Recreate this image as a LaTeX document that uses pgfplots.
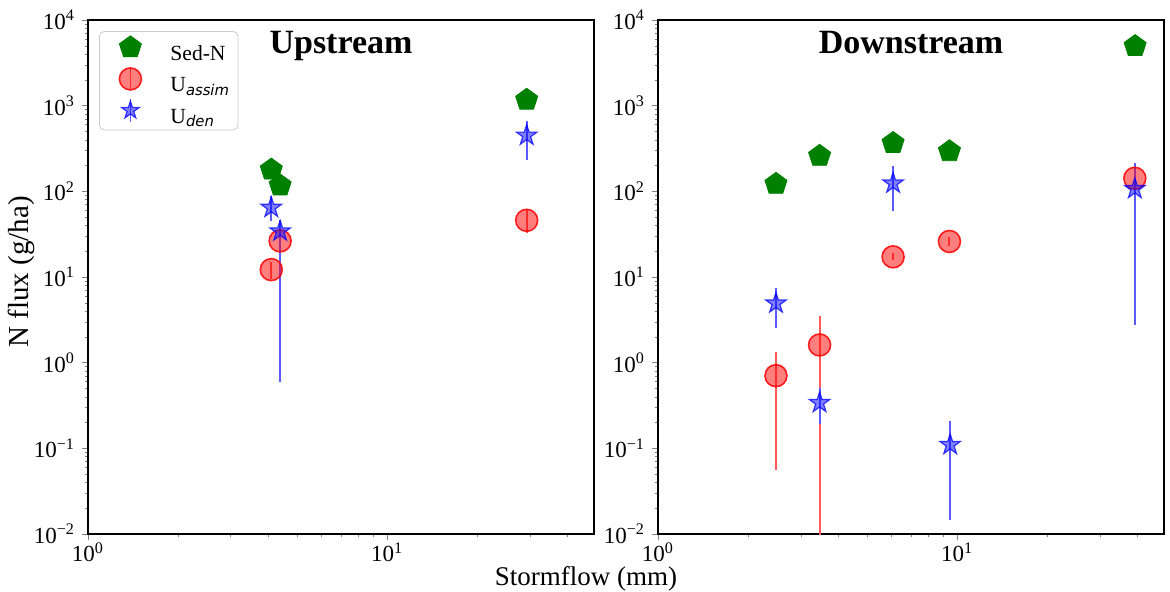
\documentclass[border=0pt]{standalone}
\usepackage{fontspec}
\setmainfont{Liberation Serif}
\newfontfamily\dvs{DejaVu Sans}
\usepackage{pgfplots}
\usepackage{pgfplotstable}
\pgfplotsset{compat=1.18}
\definecolor{mplgreen}{RGB}{0,128,0}
\definecolor{errred}{RGB}{255,90,90}
\definecolor{errblue}{RGB}{90,90,255}

\pgfdeclareplotmark{mstar}{%
 \pgfpathmoveto{\pgfpointpolar{90}{\pgfplotmarksize}}%
 \pgfpathlineto{\pgfpointpolar{126}{0.382\pgfplotmarksize}}%
 \pgfpathlineto{\pgfpointpolar{162}{\pgfplotmarksize}}%
 \pgfpathlineto{\pgfpointpolar{198}{0.382\pgfplotmarksize}}%
 \pgfpathlineto{\pgfpointpolar{234}{\pgfplotmarksize}}%
 \pgfpathlineto{\pgfpointpolar{270}{0.382\pgfplotmarksize}}%
 \pgfpathlineto{\pgfpointpolar{306}{\pgfplotmarksize}}%
 \pgfpathlineto{\pgfpointpolar{342}{0.382\pgfplotmarksize}}%
 \pgfpathlineto{\pgfpointpolar{18}{\pgfplotmarksize}}%
 \pgfpathlineto{\pgfpointpolar{54}{0.382\pgfplotmarksize}}%
 \pgfpathclose
 \pgfusepathqfillstroke
}

% ---------------- Upstream ----------------
\pgfplotstableread{
x y
4.10 179
4.39 117
29.3 1170
}\upsed
\pgfplotstableread{
x y
4.10 12.2
4.39 26.4
29.3 45.9
}\upassim
\pgfplotstableread{
x y
4.10 9.6
4.10 15.0
nan nan
4.39 23.4
4.39 29.4
nan nan
29.3 32.9
29.3 60.9
}\upassimerr
\pgfplotstableread{
x y
4.10 64.5
4.39 34.2
29.3 449
}\upden
\pgfplotstableread{
x y
4.10 45
4.10 87.5
nan nan
4.39 0.6
4.39 46
nan nan
29.3 234
29.3 671
}\updenerr
% ---------------- Downstream ----------------
\pgfplotstableread{
x y
2.48 122
3.47 259
6.11 366
9.43 293
39.4 4950
}\dnsed
\pgfplotstableread{
x y
2.48 0.705
3.47 1.61
6.11 17.2
9.43 26.0
39.3 142
}\dnassim
\pgfplotstableread{
x y
2.48 0.056
2.48 1.33
nan nan
3.47 0.002
3.47 3.47
nan nan
6.11 15.9
6.11 18.9
nan nan
9.43 23.1
9.43 29.4
nan nan
39.3 71
39.3 217
}\dnassimerr
\pgfplotstableread{
x y
2.48 4.93
3.47 0.34
6.11 124
9.48 0.110
39.3 107
}\dnden
\pgfplotstableread{
x y
2.48 2.56
2.48 7.4
nan nan
3.47 0.19
3.47 0.5
nan nan
6.11 59.6
6.11 196
nan nan
9.48 0.0145
9.48 0.206
nan nan
39.3 2.77
39.3 212
}\dndenerr

\pgfplotsset{
 sedn/.style={only marks, mark=pentagon*, mark size=5.8pt, mark options={draw=mplgreen, fill=mplgreen}},
 assim/.style={only marks, mark=*, mark size=5.5pt,
   mark options={draw=red, draw opacity=0.85, fill=red, fill opacity=0.5, line width=0.8pt}},
 uden/.style={only marks, mark=mstar, mark size=5.4pt,
   mark options={draw=blue, draw opacity=0.75, fill=blue, fill opacity=0.5, line width=0.6pt}},
 errr/.style={forget plot, mark=none, draw=errred, line width=1pt, unbounded coords=jump},
 errb/.style={forget plot, mark=none, draw=errblue, line width=1pt, unbounded coords=jump},
}

\begin{document}
\begin{tikzpicture}
\path[use as bounding box] (0,0) rectangle (585pt,295.5pt);

\begin{axis}[xmode=log, ymode=log,
  xmin=1, xmax=49.2, ymin=1e-2, ymax=1e4,
  scale only axis, width=253pt, height=257pt,
  tick pos=left, tick align=outside,
  major tick length=3pt, minor tick length=1.6pt,
  axis line style={line width=0.9pt},
  xtick={1,10},
  xticklabels={10\textsuperscript{0},10\textsuperscript{1}},
  minor xtick={2,3,4,5,6,7,8,9,20,30,40},
  ytick={1e-2,1e-1,1,10,100,1000,10000},
  yticklabels={10\textsuperscript{−2},10\textsuperscript{−1},10\textsuperscript{0},10\textsuperscript{1},10\textsuperscript{2},10\textsuperscript{3},10\textsuperscript{4}},
  minor ytick={0.02,0.03,0.04,0.05,0.06,0.07,0.08,0.09,0.2,0.3,0.4,0.5,0.6,0.7,0.8,0.9,2,3,4,5,6,7,8,9,20,30,40,50,60,70,80,90,200,300,400,500,600,700,800,900,2000,3000,4000,5000,6000,7000,8000,9000},
  ticklabel style={font=\fontsize{11.5}{12}\selectfont},
  xticklabel style={inner ysep=1pt},
  title style={at={(0.5,1)}, anchor=base, yshift=-22.5pt, font=\fontsize{17}{20}\selectfont\bfseries},
  at={(44pt,28.5pt)}, anchor=south west, title={Upstream},
  legend cell align=left,
  legend style={at={(0,1)}, anchor=north west, xshift=5.5pt, yshift=-5.5pt,
    draw=black!20, rounded corners=2.5pt, fill=white,
    inner xsep=4.5pt, inner ysep=1pt, row sep=0pt,
    nodes={inner sep=0pt},
    font=\fontsize{10.8}{12}\selectfont}]
\addplot[sedn, legend image code/.code={
   \path[draw=none] (0pt,-5.15pt) rectangle (31pt,10.6pt);
   \pgfsetfillcolor{mplgreen}\pgfsetstrokecolor{mplgreen}
   \pgftransformshift{\pgfpoint{11pt}{3.6pt}}
   \pgfsetplotmarksize{5.8pt}\pgfuseplotmark{pentagon*}}]
  table[x=x, y=y] {\upsed};
\addlegendentry{Sed-N}
\addplot[errr] table[x=x, y=y] {\upassimerr};
\addplot[assim, legend image code/.code={
   \path[draw=none] (0pt,-5.15pt) rectangle (31pt,10.6pt);
   \draw[draw=errred, line width=0.9pt] (11pt,-2.2pt) -- (11pt,9.4pt);
   \fill[red, fill opacity=0.5, draw=red, draw opacity=0.85, line width=0.8pt] (11pt,3.6pt) circle[radius=5.5pt];}]
  table[x=x, y=y] {\upassim};
\addlegendentry{U\raisebox{-1.7pt}{\fontsize{7.4}{8}\selectfont\dvs\itshape assim}}
\addplot[errb] table[x=x, y=y] {\updenerr};
\addplot[uden, legend image code/.code={
   \path[draw=none] (0pt,-5.15pt) rectangle (31pt,10.6pt);
   \draw[draw=errblue, line width=0.9pt] (11pt,-2pt) -- (11pt,9.2pt);
   \begin{scope}[fill=blue, fill opacity=0.5, draw=blue, draw opacity=0.75, line width=0.6pt]
   \pgftransformshift{\pgfpoint{11pt}{3.6pt}}
   \pgfsetplotmarksize{4.6pt}\pgfuseplotmark{mstar}
   \end{scope}}]
  table[x=x, y=y] {\upden};
\addlegendentry{U\raisebox{-1.7pt}{\fontsize{7.4}{8}\selectfont\dvs\itshape den}}
\end{axis}

\begin{axis}[xmode=log, ymode=log,
  xmin=1, xmax=49.2, ymin=1e-2, ymax=1e4,
  scale only axis, width=253pt, height=257pt,
  tick pos=left, tick align=outside,
  major tick length=3pt, minor tick length=1.6pt,
  axis line style={line width=0.9pt},
  xtick={1,10},
  xticklabels={10\textsuperscript{0},10\textsuperscript{1}},
  minor xtick={2,3,4,5,6,7,8,9,20,30,40},
  ytick={1e-2,1e-1,1,10,100,1000,10000},
  yticklabels={10\textsuperscript{−2},10\textsuperscript{−1},10\textsuperscript{0},10\textsuperscript{1},10\textsuperscript{2},10\textsuperscript{3},10\textsuperscript{4}},
  minor ytick={0.02,0.03,0.04,0.05,0.06,0.07,0.08,0.09,0.2,0.3,0.4,0.5,0.6,0.7,0.8,0.9,2,3,4,5,6,7,8,9,20,30,40,50,60,70,80,90,200,300,400,500,600,700,800,900,2000,3000,4000,5000,6000,7000,8000,9000},
  ticklabel style={font=\fontsize{11.5}{12}\selectfont},
  xticklabel style={inner ysep=1pt},
  title style={at={(0.5,1)}, anchor=base, yshift=-22.5pt, font=\fontsize{17}{20}\selectfont\bfseries},
  at={(329pt,28.5pt)}, anchor=south west, title={Downstream}]
\addplot[sedn] table[x=x, y=y] {\dnsed};
\addplot[errr] table[x=x, y=y] {\dnassimerr};
\addplot[assim] table[x=x, y=y] {\dnassim};
\addplot[errb] table[x=x, y=y] {\dndenerr};
\addplot[uden] table[x=x, y=y] {\dnden};
\end{axis}

\node[rotate=90, anchor=base, inner sep=0pt, font=\fontsize{14.5}{17}\selectfont] at (14pt,159.5pt) {N flux (g/ha)};
\node[anchor=base, inner sep=0pt, font=\fontsize{13.5}{16}\selectfont] at (293pt,3pt) {Stormflow (mm)};
\end{tikzpicture}
\end{document}
